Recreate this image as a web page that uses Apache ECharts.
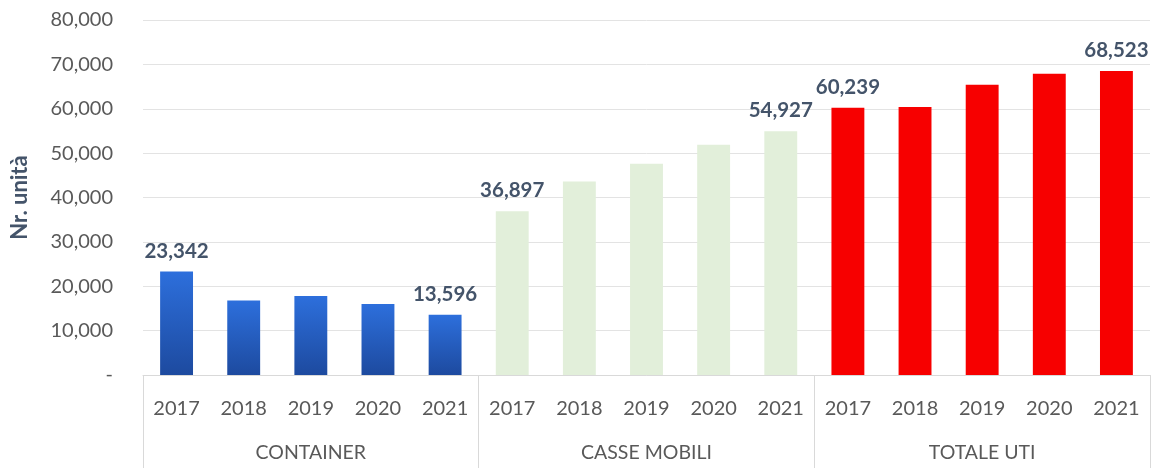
<!DOCTYPE html>
<html>
<head>
<meta charset="utf-8">
<script src="https://cdn.jsdelivr.net/npm/echarts@6/dist/echarts.min.js"></script>
<style>
  html, body { margin: 0; padding: 0; background: #fff; }
  #chart { width: 1159px; height: 468px; }
</style>
</head>
<body>
<div id="chart"></div>
<script>
// 数据
var years = ['2017', '2018', '2019', '2020', '2021'];
var groups = ['CONTAINER', 'CASSE MOBILI', 'TOTALE UTI'];
var containerVals = [23342, 16800, 17800, 16000, 13596];
var casseVals = [36897, 43600, 47600, 51900, 54927];
var totaleVals = [60239, 60400, 65400, 67900, 68523];
var yTicks = [0, 10000, 20000, 30000, 40000, 50000, 60000, 70000, 80000];

var FONT = 'Lato, "Open Sans", sans-serif';

/**
 * 组内数据：只在首尾两根柱子上显示数值
 */
function buildSeriesData(vals, groupIndex) {
  var out = [];
  for (var g = 0; g < groups.length; g++) {
    for (var i = 0; i < years.length; i++) {
      if (g !== groupIndex) {
        out.push('-');
        continue;
      }
      var showLabel = i === 0 || i === years.length - 1;
      out.push({ value: vals[i], label: { show: showLabel } });
    }
  }
  return out;
}

var categories = [];
groups.forEach(function () {
  years.forEach(function (y) { categories.push(y); });
});

function fmt(v) {
  if (v === 0) return '-';
  return v.toLocaleString('en-US');
}

var barLabel = {
  position: 'top',
  distance: 10,
  color: '#44546a',
  fontFamily: FONT,
  fontWeight: 'bold',
  fontSize: 20.5,
  formatter: function (p) { return fmt(p.value); }
};

var chart = echarts.init(document.getElementById('chart'));

chart.setOption({
  backgroundColor: '#fff',
  animation: false,
  grid: {
    left: 143,
    right: 9,
    top: 20,
    bottom: 93
  },
  xAxis: [
    {
      type: 'category',
      data: categories,
      axisLine: { lineStyle: { color: '#d9d9d9' } },
      axisTick: { show: false },
      axisLabel: {
        interval: 0,
        margin: 24,
        color: '#595959',
        fontFamily: FONT,
        fontSize: 20
      }
    },
    {
      type: 'category',
      data: groups,
      position: 'bottom',
      axisLine: { show: false },
      axisTick: {
        show: true,
        length: 93,
        lineStyle: { color: '#d9d9d9' }
      },
      axisLabel: {
        interval: 0,
        margin: 68,
        color: '#595959',
        fontFamily: FONT,
        fontSize: 19.5
      },
      splitLine: { show: false }
    }
  ],
  yAxis: {
    type: 'value',
    min: yTicks[0],
    max: yTicks[yTicks.length - 1],
    interval: 10000,
    name: 'Nr. unità',
    nameLocation: 'middle',
    nameRotate: 90,
    nameGap: 112,
    nameTextStyle: {
      color: '#44546a',
      fontFamily: FONT,
      fontWeight: 'bold',
      fontSize: 22
    },
    axisLine: { show: false },
    axisTick: { show: false },
    axisLabel: {
      margin: 30,
      color: '#595959',
      fontFamily: FONT,
      fontSize: 20
    , formatter: fmt
    },
    splitLine: { lineStyle: { color: '#e3e3e3' } }
  },
  series: [
    {
      name: 'CONTAINER',
      type: 'bar',
      barWidth: '49%',
      barGap: '-100%',
      data: buildSeriesData(containerVals, 0),
      label: barLabel,
      itemStyle: {
        color: {
          type: 'linear', x: 0, y: 0, x2: 0, y2: 1,
          colorStops: [
            { offset: 0, color: '#2d6fdc' },
            { offset: 1, color: '#1d4a9f' }
          ]
        }
      }
    },
    {
      name: 'CASSE MOBILI',
      type: 'bar',
      barWidth: '49%',
      barGap: '-100%',
      data: buildSeriesData(casseVals, 1),
      label: barLabel,
      itemStyle: { color: '#e2efda' }
    },
    {
      name: 'TOTALE UTI',
      type: 'bar',
      barWidth: '49%',
      barGap: '-100%',
      data: buildSeriesData(totaleVals, 2),
      label: barLabel,
      itemStyle: { color: '#f70000' }
    }
  ]
});
</script>
</body>
</html>
